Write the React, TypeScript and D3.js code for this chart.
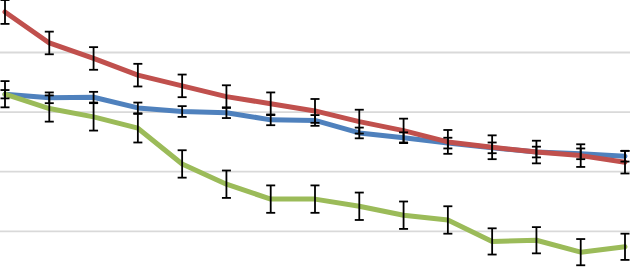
import React, { useEffect, useRef } from "react";
import * as d3 from "d3";

// 15 points along the x axis (axis labels are cropped out of the picture)
const categories = ["1", "2", "3", "4", "5", "6", "7", "8", "9", "10", "11", "12", "13", "14", "15"];

const gridTicks = [0, 1, 2, 3, 4, 5];

const blueValues = [3.30, 3.24, 3.25, 3.07, 3.01, 2.99, 2.87, 2.86, 2.65, 2.57, 2.48, 2.40, 2.33, 2.30, 2.26];
const blueErrors = [0.22, 0.09, 0.09, 0.09, 0.09, 0.09, 0.09, 0.09, 0.09, 0.09, 0.09, 0.09, 0.09, 0.09, 0.09];

const greenValues = [3.30, 3.06, 2.92, 2.73, 2.13, 1.79, 1.54, 1.54, 1.42, 1.27, 1.19, 0.83, 0.85, 0.65, 0.74];
const greenErrors = [0.07, 0.22, 0.23, 0.24, 0.23, 0.23, 0.23, 0.23, 0.23, 0.23, 0.23, 0.22, 0.22, 0.22, 0.22];

const redValues = [4.68, 4.16, 3.90, 3.62, 3.44, 3.26, 3.14, 3.02, 2.84, 2.69, 2.50, 2.41, 2.33, 2.27, 2.16];
const redErrors = [0.2, 0.19, 0.19, 0.19, 0.19, 0.19, 0.19, 0.2, 0.2, 0.2, 0.2, 0.2, 0.19, 0.19, 0.19];

export default function App() {
  const ref = useRef<SVGSVGElement>(null);

  useEffect(() => {
    const width = 630,
      height = 268;

    const svg = d3.select(ref.current);
    svg.selectAll("*").remove();

    var x = d3.scalePoint<string>().domain(categories).range([5, 625]);
    var y = d3.scaleLinear().domain([0, 5]).range([290.9, -7.1]);

    // gridlines
    svg
      .append("g")
      .selectAll("line")
      .data(gridTicks)
      .enter()
      .append("line")
      .attr("x1", 0)
      .attr("x2", width)
      .attr("y1", (d) => y(d))
      .attr("y2", (d) => y(d))
      .attr("stroke", "#d9d9d9")
      .attr("stroke-width", 1.8);

    const series = [
      { values: blueValues, errors: blueErrors, color: "#4f81bd" },
      { values: greenValues, errors: greenErrors, color: "#9bbb59" },
      { values: redValues, errors: redErrors, color: "#c0504d" },
    ];

    const line = d3
      .line<number>()
      .x((d, i) => x(categories[i]) as number)
      .y((d) => y(d));

    series.forEach((s) => {
      svg
        .append("path")
        .datum(s.values)
        .attr("fill", "none")
        .attr("stroke", s.color)
        .attr("stroke-width", 5)
        .attr("stroke-linejoin", "round")
        .attr("stroke-linecap", "round")
        .attr("d", line);
    });

    // error bars on top
    series.forEach((s) => {
      const g = svg.append("g").attr("stroke", "#000").attr("stroke-width", 1.8);
      s.values.forEach((v, i) => {
        const cx = x(categories[i]) as number;
        const top = y(v + s.errors[i]);
        const bot = y(v - s.errors[i]);
        g.append("line").attr("x1", cx).attr("x2", cx).attr("y1", top).attr("y2", bot);
        g.append("line").attr("x1", cx - 4.5).attr("x2", cx + 4.5).attr("y1", top).attr("y2", top);
        g.append("line").attr("x1", cx - 4.5).attr("x2", cx + 4.5).attr("y1", bot).attr("y2", bot);
      });
    });

    svg.attr("width", width).attr("height", height);
  }, []);

  return (
    <svg
      ref={ref}
      width={630}
      height={268}
      style={{ position: "absolute", left: 0, top: 0, background: "#fff" }}
    />
  );
}
